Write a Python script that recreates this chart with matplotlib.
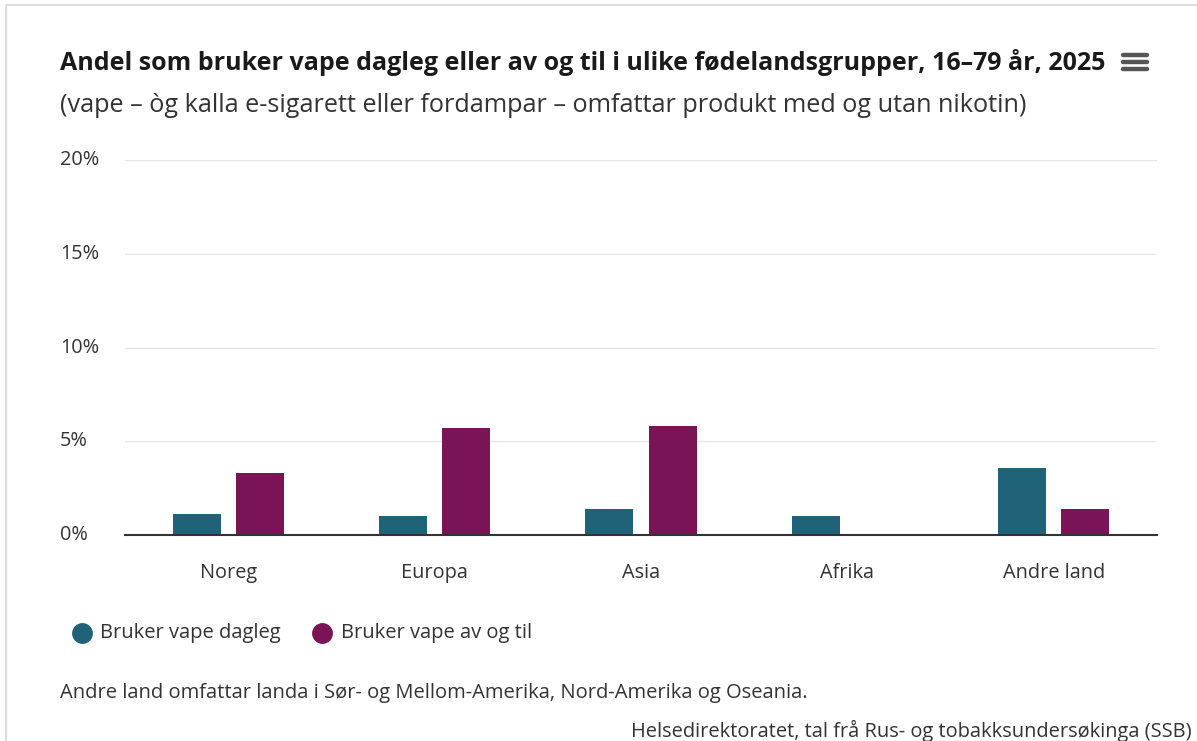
import numpy as np
import matplotlib.pyplot as plt
from matplotlib.lines import Line2D
from matplotlib.patches import Rectangle

plt.rcParams['font.family'] = ['Open Sans', 'DejaVu Sans']

categories = ["Noreg", "Europa", "Asia", "Afrika", "Andre land"]
dagleg = [1.1, 1.0, 1.4, 1.0, 3.6]
av_og_til = [3.3, 5.7, 5.8, np.nan, 1.4]
yticks = [0, 5, 10, 15, 20]
ytick_labels = ["0%", "5%", "10%", "15%", "20%"]

c_dagleg = "#206378"
c_avogtil = "#7a1456"
txt = "#333333"

W, H = 1197, 741
fig = plt.figure(figsize=(W / 100, H / 100), dpi=100)
ax = fig.add_axes([125 / W, 1 - 535 / H, (1157 - 125) / W, (535 - 160) / H])

x = np.arange(len(categories))
bw = 0.233
off = 0.153
ax.bar(x - off, dagleg, width=bw, color=c_dagleg, zorder=3)
ax.bar(x + off, av_og_til, width=bw, color=c_avogtil, zorder=3)

ax.set_xlim(-0.5, len(categories) - 0.5)
ax.set_ylim(0, 20)
ax.set_yticks(yticks)
ax.set_yticklabels([])
ax.set_xticks(x)
ax.set_xticklabels(categories)
ax.grid(axis="y", color="#e6e6e6", linewidth=1, zorder=0)
for s in ["top", "right", "left"]:
    ax.spines[s].set_visible(False)
ax.spines["bottom"].set_color("#333333")
ax.spines["bottom"].set_linewidth(1.5)
ax.spines["bottom"].set_zorder(4)
ax.tick_params(axis="both", length=0, labelsize=14.3, colors=txt)
ax.tick_params(axis="x", pad=20)

# y labels left-aligned at x=60 px
for v, t in zip(yticks, ytick_labels):
    ypx = 535 - v * 18.75
    fig.text(60 / W, 1 - ypx / H, t, fontsize=14.3, color=txt, va="center", ha="left")

fig.text(60 / W, 1 - 62 / H, "Andel som bruker vape dagleg eller av og til i ulike fødelandsgrupper, 16–79 år, 2025",
         fontsize=18, fontweight="bold", color="#1a1a1a", va="center", ha="left")
fig.text(60 / W, 1 - 106 / H, "(vape – òg kalla e-sigarett eller fordampar – omfattar produkt med og utan nikotin)",
         fontsize=18.2, color=txt, va="center", ha="left")

# hamburger menu icon
for yy in [55, 62, 69]:
    fig.add_artist(Line2D([1123 / W, 1147 / W], [1 - yy / H, 1 - yy / H], color="#555555", linewidth=3.2,
                          solid_capstyle="round"))

# legend
fig.add_artist(Line2D([82 / W], [1 - 633 / H], marker="o", markersize=14, color=c_dagleg, linestyle="none"))
fig.text(100 / W, 1 - 633 / H, "Bruker vape dagleg", fontsize=14.5, color=txt, va="center", ha="left")
fig.add_artist(Line2D([322 / W], [1 - 633 / H], marker="o", markersize=14, color=c_avogtil, linestyle="none"))
fig.text(341 / W, 1 - 633 / H, "Bruker vape av og til", fontsize=14.5, color=txt, va="center", ha="left")

fig.text(60 / W, 1 - 693 / H, "Andre land omfattar landa i Sør- og Mellom-Amerika, Nord-Amerika og Oseania.",
         fontsize=14.5, color=txt, va="center", ha="left")
fig.text(1192 / W, 1 - 731 / H, "Helsedirektoratet, tal frå Rus- og tobakksundersøkinga (SSB)",
         fontsize=14.4, color=txt, va="center", ha="right")

# outer border
fig.add_artist(Rectangle((6 / W, -0.1), 1.2, 1 - 5 / H + 0.1, transform=fig.transFigure,
                         fill=False, edgecolor="#dddddd", linewidth=1.5))

fig.savefig("out.png", dpi=100)
